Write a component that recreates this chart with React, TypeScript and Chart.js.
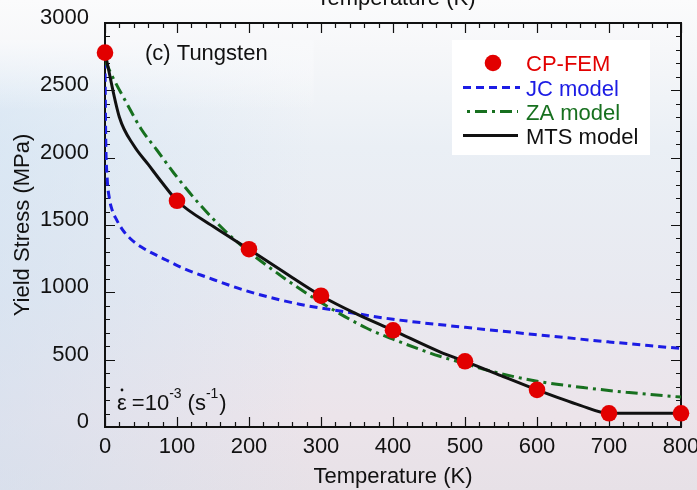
import React, { useEffect, useRef } from "react";
import { Chart, registerables } from "chart.js";

Chart.register(...registerables);

// Temperature (K) / yield stress (MPa) data for tungsten at a strain rate of 1e-3 1/s
const cpFemTemp = [0, 100, 200, 300, 400, 500, 600, 700, 800];
const cpFemStress = [2780, 1680, 1320, 975, 718, 488, 276, 102, 102];

const jcTemp = [0, 1, 3, 6, 10, 16, 25, 35, 50, 85, 110, 140, 200, 270, 340, 400, 500, 600, 700, 800];
const jcStress = [2720, 2150, 1850, 1700, 1610, 1540, 1460, 1400, 1338, 1240, 1175, 1115, 1005, 912, 850, 800, 740, 685, 632, 583];

const zaTemp = [0, 10, 30, 50, 72, 95, 132, 178, 243, 300, 363, 400, 465, 500, 525, 600, 664, 724, 800];
const zaStress = [2720, 2605, 2405, 2215, 2057, 1890, 1650, 1400, 1128, 925, 735, 652, 525, 472, 430, 340, 293, 258, 222];

const mtsTemp = [0, 20, 40, 60, 80, 100, 150, 200, 250, 300, 350, 400, 465, 500, 550, 600, 660, 700, 800];
const mtsStress = [2780, 2300, 2090, 1950, 1810, 1680, 1490, 1320, 1145, 975, 838, 718, 558, 488, 382, 276, 161, 102, 102];

const xTickValues = [0, 100, 200, 300, 400, 500, 600, 700, 800];
const yTickValues = [0, 500, 1000, 1500, 2000, 2500, 3000];

const FONT = "'Liberation Sans', Arial, Helvetica, sans-serif";
const RED = "#e20000";
const BLUE = "#1c1ce4";
const GREEN = "#17701f";
const INK = "#111111";
const JC_DASH = [8, 5];
const ZA_DASH = [12, 5, 3, 5];

const toPoints = (xs: number[], ys: number[]) => xs.map((x, i) => ({ x, y: ys[i] }));

// Soft sky-like backdrop plus the white panel behind the legend
const backdropPlugin = {
  id: "backdrop",
  beforeDraw(chart: any) {
    const { ctx, width, height } = chart;
    ctx.save();
    const g = ctx.createLinearGradient(0, 0, 0, height);
    g.addColorStop(0, "#fbfbfc");
    g.addColorStop(0.1, "#f6f7f9");
    g.addColorStop(0.3, "#eaeff5");
    g.addColorStop(0.6, "#e8e9f0");
    g.addColorStop(0.85, "#ece4ea");
    g.addColorStop(1, "#e7e1e7");
    ctx.fillStyle = g;
    ctx.fillRect(0, 0, width, height);
    const h = ctx.createLinearGradient(0, 0, width * 0.45, 0);
    h.addColorStop(0, "rgba(200,222,242,0.45)");
    h.addColorStop(1, "rgba(200,222,242,0)");
    ctx.fillStyle = h;
    ctx.fillRect(0, 40, width, height - 40);
    const fade = ctx.createLinearGradient(0, 40, 0, 110);
    fade.addColorStop(0, "rgba(248,249,251,1)");
    fade.addColorStop(1, "rgba(248,249,251,0)");
    ctx.fillStyle = fade;
    ctx.fillRect(0, 40, width * 0.45, 70);
    ctx.fillStyle = "#ffffff";
    ctx.fillRect(452, 40, 198, 115);
    ctx.restore();
  },
};

// Closed frame with inward major/minor ticks on all four sides
const framePlugin = {
  id: "frame",
  beforeDatasetsDraw(chart: any) {
    const { ctx, chartArea } = chart;
    const { left, right, top, bottom } = chartArea;
    const xs = chart.scales.x;
    const ys = chart.scales.y;
    ctx.save();
    ctx.strokeStyle = INK;
    ctx.lineWidth = 1.2;
    ctx.beginPath();
    for (let v = 0; v <= 800; v += 20) {
      const px = Math.round(xs.getPixelForValue(v)) + 0.5;
      const len = v % 100 === 0 ? 10 : 5;
      ctx.moveTo(px, bottom);
      ctx.lineTo(px, bottom - len);
      ctx.moveTo(px, top);
      ctx.lineTo(px, top + len);
    }
    for (let v = 0; v <= 3000; v += 100) {
      const py = Math.round(ys.getPixelForValue(v)) + 0.5;
      const len = v % 500 === 0 ? 10 : 5;
      ctx.moveTo(left, py);
      ctx.lineTo(left + len, py);
      ctx.moveTo(right, py);
      ctx.lineTo(right - len, py);
    }
    ctx.stroke();
    ctx.lineWidth = 2;
    ctx.strokeRect(left, top, right - left, bottom - top);
    ctx.restore();
  },
};

// Panel label, strain-rate note, legend and the heading text above the frame
const notesPlugin = {
  id: "notes",
  afterDraw(chart: any) {
    const { ctx } = chart;
    ctx.save();
    ctx.textBaseline = "alphabetic";
    ctx.font = `22px ${FONT}`;

    ctx.fillStyle = INK;
    ctx.textAlign = "center";
    ctx.fillText("Temperature (K)", 396, 5);

    ctx.textAlign = "left";
    ctx.fillText("(c) Tungsten", 145, 60);

    // strain rate: epsilon-dot = 10^-3 (s^-1)
    let x = 117;
    const base = 410;
    ctx.fillText("\u03b5", x, base);
    ctx.beginPath();
    ctx.arc(x + 5, 390, 1.4, 0, Math.PI * 2);
    ctx.fill();
    x += ctx.measureText("\u03b5").width + 5;
    ctx.fillText("=10", x, base);
    x += ctx.measureText("=10").width;
    ctx.font = `14px ${FONT}`;
    ctx.fillText("-3", x, base - 12);
    x += ctx.measureText("-3").width + 6;
    ctx.font = `22px ${FONT}`;
    ctx.fillText("(s", x, base);
    x += ctx.measureText("(s").width;
    ctx.font = `14px ${FONT}`;
    ctx.fillText("-1", x, base - 12);
    x += ctx.measureText("-1").width + 1;
    ctx.font = `22px ${FONT}`;
    ctx.fillText(")", x, base);

    // legend
    const textX = 526;
    ctx.fillStyle = RED;
    ctx.beginPath();
    ctx.arc(493, 63, 8.3, 0, Math.PI * 2);
    ctx.fill();
    ctx.fillText("CP-FEM", textX, 71);

    const legendLine = (y: number, color: string, dash: number[], x0: number, x1: number) => {
      ctx.strokeStyle = color;
      ctx.lineWidth = 3;
      ctx.setLineDash(dash);
      ctx.beginPath();
      ctx.moveTo(x0, y);
      ctx.lineTo(x1, y);
      ctx.stroke();
      ctx.setLineDash([]);
    };
    legendLine(87.5, BLUE, JC_DASH, 463, 520);
    ctx.fillStyle = BLUE;
    ctx.fillText("JC model", textX, 96);

    legendLine(111.5, GREEN, [3, 5, 12, 5], 467, 518);
    ctx.fillStyle = GREEN;
    ctx.fillText("ZA model", textX, 120);

    legendLine(135.5, INK, [], 463, 518);
    ctx.fillStyle = INK;
    ctx.fillText("MTS model", textX, 144);
    ctx.restore();
  },
};

export default function App() {
  const canvasRef = useRef<HTMLCanvasElement | null>(null);

  useEffect(() => {
    if (!canvasRef.current) return;
    const chart = new Chart(canvasRef.current, {
      type: "line",
      data: {
        datasets: [
          {
            label: "CP-FEM",
            data: toPoints(cpFemTemp, cpFemStress),
            showLine: false,
            pointRadius: 8.3,
            pointBackgroundColor: RED,
            pointBorderWidth: 0,
            borderColor: RED,
            clip: false,
          },
          {
            label: "MTS model",
            data: toPoints(mtsTemp, mtsStress),
            borderColor: INK,
            borderWidth: 3,
            pointRadius: 0,
            cubicInterpolationMode: "monotone",
            fill: false,
          },
          {
            label: "ZA model",
            data: toPoints(zaTemp, zaStress),
            borderColor: GREEN,
            borderWidth: 3,
            borderDash: ZA_DASH,
            pointRadius: 0,
            cubicInterpolationMode: "monotone",
            fill: false,
          },
          {
            label: "JC model",
            data: toPoints(jcTemp, jcStress),
            borderColor: BLUE,
            borderWidth: 3,
            borderDash: JC_DASH,
            pointRadius: 0,
            cubicInterpolationMode: "monotone",
            fill: false,
          },
        ],
      },
      options: {
        animation: false,
        responsive: false,
        events: [],
        layout: { autoPadding: false, padding: { left: 0, right: 16, top: 23, bottom: 0 } },
        plugins: { legend: { display: false }, tooltip: { enabled: false } },
        scales: {
          x: {
            type: "linear",
            min: 0,
            max: 800,
            afterBuildTicks: (s: any) => {
              s.ticks = xTickValues.map((value) => ({ value }));
            },
            afterFit: (s: any) => {
              s.height = 63;
              s.paddingLeft = 0;
              s.paddingRight = 0;
            },
            grid: { display: false, drawTicks: false },
            border: { display: false },
            ticks: {
              color: INK,
              padding: 7,
              callback: (v: any) => String(v),
              font: { family: FONT, size: 22, lineHeight: 1.2 },
            },
            title: {
              display: true,
              text: "Temperature (K)",
              color: INK,
              padding: { top: 0, bottom: 0 },
              font: { family: FONT, size: 22, lineHeight: 1.2 },
            },
          },
          y: {
            type: "linear",
            min: 0,
            max: 3000,
            afterBuildTicks: (s: any) => {
              s.ticks = yTickValues.map((value) => ({ value }));
            },
            afterFit: (s: any) => {
              s.width = 105;
              s.paddingTop = 0;
              s.paddingBottom = 0;
            },
            grid: { display: false, drawTicks: false },
            border: { display: false },
            ticks: {
              color: INK,
              padding: 16,
              labelOffset: -5,
              callback: (v: any) => String(v),
              font: { family: FONT, size: 22, lineHeight: 1.2 },
            },
            title: {
              display: true,
              text: "Yield Stress (MPa)",
              color: INK,
              padding: { top: 10, bottom: 0 },
              font: { family: FONT, size: 22, lineHeight: 1.2 },
            },
          },
        },
      },
      plugins: [backdropPlugin, framePlugin, notesPlugin],
    });
    return () => chart.destroy();
  }, []);

  return (
    <div style={{ position: "fixed", left: 0, top: 0, width: 697, height: 490 }}>
      <canvas ref={canvasRef} width={697} height={490} style={{ display: "block" }} />
    </div>
  );
}
